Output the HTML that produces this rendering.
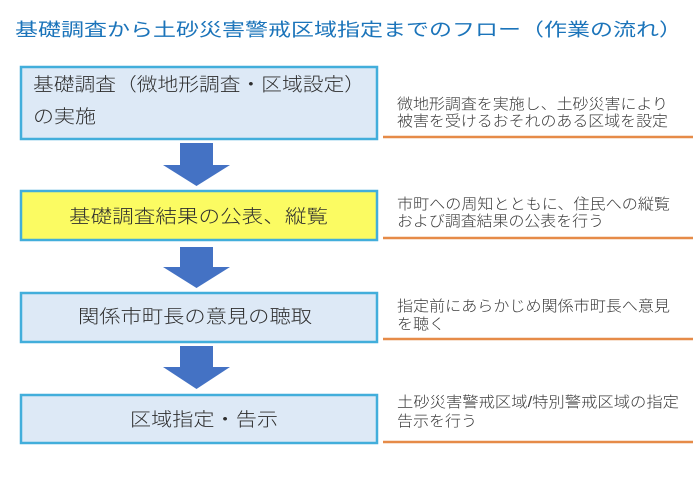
<!DOCTYPE html>
<html>
<head>
<meta charset="utf-8">
<style>
html,body{margin:0;padding:0;background:#fff;}
svg{display:block;}
text{font-family:"Liberation Sans","Noto Sans CJK JP",sans-serif;}
</style>
</head>
<body>
<svg width="700" height="484" viewBox="0 0 700 484" xmlns="http://www.w3.org/2000/svg">
<rect width="700" height="484" fill="#ffffff"/>

<!-- Title -->
<text x="15" y="36" font-size="18" fill="#1b74ba" textLength="667" lengthAdjust="spacingAndGlyphs">基礎調査から土砂災害警戒区域指定までのフロー（作業の流れ）</text>

<!-- Boxes -->
<rect x="21" y="67" width="356" height="72" fill="#dde9f6" stroke="#42aedb" stroke-width="2.5"/>
<rect x="21" y="191" width="356" height="49" fill="#fbfb62" stroke="#42aedb" stroke-width="2.5"/>
<rect x="21" y="293" width="356" height="49" fill="#dde9f6" stroke="#42aedb" stroke-width="2.5"/>
<rect x="21" y="395" width="356" height="48" fill="#dde9f6" stroke="#42aedb" stroke-width="2.5"/>

<!-- Box texts -->
<g fill="#2e2e2e" font-size="18.5" font-weight="300">
<text x="33" y="91" textLength="332" lengthAdjust="spacingAndGlyphs">基礎調査（微地形調査・区域設定）</text>
<text x="33" y="123" textLength="63" lengthAdjust="spacingAndGlyphs">の実施</text>
<text x="69" y="223" textLength="259" lengthAdjust="spacingAndGlyphs">基礎調査結果の公表、縦覧</text>
<text x="78" y="323" textLength="234" lengthAdjust="spacingAndGlyphs">関係市町長の意見の聴取</text>
<text x="130" y="426" textLength="148" lengthAdjust="spacingAndGlyphs">区域指定・告示</text>
</g>

<!-- Arrows -->
<g fill="#4472c4">
<polygon points="180,143 213,143 213,165 230,165 196.5,186 163,165 180,165"/>
<polygon points="180,247 213,247 213,267 230,267 196.5,288 163,267 180,267"/>
<polygon points="180,346 213,346 213,367 230,367 196.5,389 163,367 180,367"/>
</g>

<!-- Notes -->
<g fill="#3a3a3a" font-size="15" font-weight="300">
<text x="397" y="109" textLength="271" lengthAdjust="spacingAndGlyphs">微地形調査を実施し、土砂災害により</text>
<text x="397" y="126" textLength="271" lengthAdjust="spacingAndGlyphs">被害を受けるおそれのある区域を設定</text>

<text x="397" y="209" textLength="273" lengthAdjust="spacingAndGlyphs">市町への周知とともに、住民への縦覧</text>
<text x="397" y="226" textLength="207" lengthAdjust="spacingAndGlyphs">および調査結果の公表を行う</text>

<text x="397" y="311" textLength="273" lengthAdjust="spacingAndGlyphs">指定前にあらかじめ関係市町長へ意見</text>
<text x="397" y="329" textLength="48" lengthAdjust="spacingAndGlyphs">を聴く</text>

<text x="397" y="407" textLength="282" lengthAdjust="spacingAndGlyphs">土砂災害警戒区域/特別警戒区域の指定</text>
<text x="397" y="426" textLength="80" lengthAdjust="spacingAndGlyphs">告示を行う</text>
</g>

<!-- Orange underlines -->
<g stroke="#e68b48" stroke-width="2.5">
<line x1="383" y1="137" x2="693" y2="137"/>
<line x1="383" y1="238" x2="693" y2="238"/>
<line x1="383" y1="339" x2="693" y2="339"/>
<line x1="383" y1="442" x2="693" y2="442"/>
</g>
</svg>
</body>
</html>
